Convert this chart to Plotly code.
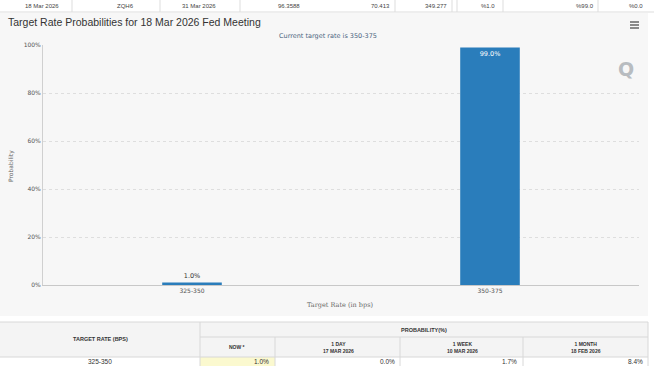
import plotly.graph_objects as go

# ---- data ----
categories = ["325-350", "350-375"]
probabilities = [1.0, 99.0]
bar_labels = ["1.0%", "99.0%"]
y_ticks = [0, 20, 40, 60, 80, 100]
y_tick_labels = ["0%", "20%", "40%", "60%", "80%", "100%"]

top_row = ["18 Mar 2026", "ZQH6", "31 Mar 2026", "96.3588", "70.413", "349.277", "%1.0", "%99.0", "%0.0"]
table_headers = ["NOW *", "1 DAY<br>17 MAR 2026", "1 WEEK<br>10 MAR 2026", "1 MONTH<br>18 FEB 2026"]
table_rate = "325-350"
table_values = ["1.0%", "0.0%", "1.7%", "8.4%"]

W, H = 654, 366
L, R, T, B = 43, 15, 45, 81
PW, PH = W - L - R, H - T - B


def px(x):
    return (x - L) / PW


def py(y):
    return (H - B - y) / PH


fig = go.Figure()
fig.add_trace(go.Bar(
    x=categories, y=probabilities, width=0.2,
    marker=dict(color="#2a7dbb", line=dict(width=0)),
    text=bar_labels, textposition=["outside", "inside"],
    insidetextanchor="end",
    textfont=dict(family="DejaVu Sans", size=6.5, color=["#333333", "#ffffff"]),
    cliponaxis=False, hoverinfo="skip",
))

shapes = []
annotations = []

# chart container background
shapes.append(dict(type="rect", xref="paper", yref="paper", x0=px(0), x1=px(648), y0=py(316), y1=py(13),
                   fillcolor="#f7f7f7", line=dict(width=0), layer="below"))

# hamburger
for yy in (22, 25, 28):
    shapes.append(dict(type="line", xref="paper", yref="paper", x0=px(630), x1=px(639), y0=py(yy), y1=py(yy),
                       line=dict(color="#666666", width=1.5)))

# top row table
shapes.append(dict(type="line", xref="paper", yref="paper", x0=px(0), x1=px(654), y0=py(12), y1=py(12),
                   line=dict(color="#dddddd", width=1)))
for xx in (72, 160, 240, 395, 452, 457, 503, 598):
    shapes.append(dict(type="line", xref="paper", yref="paper", x0=px(xx), x1=px(xx), y0=py(0), y1=py(12),
                       line=dict(color="#dddddd", width=1)))
top_pos = [(42, "center"), (125, "center"), (199, "center"), (302, "right"), (392, "right"),
           (449, "right"), (488, "center"), (596, "right"), (645, "right")]
for (xx, al), txt in zip(top_pos, top_row):
    annotations.append(dict(xref="paper", yref="paper", x=px(xx), y=py(6), text=txt, showarrow=False,
                            xanchor=al, yanchor="middle",
                            font=dict(family="Liberation Sans", size=6, color="#444444")))

# title / subtitle
annotations.append(dict(xref="paper", yref="paper", x=px(6), y=py(22), text="Target Rate Probabilities for 18 Mar 2026 Fed Meeting",
                        showarrow=False, xanchor="left", yanchor="middle",
                        font=dict(family="Liberation Sans", size=10.5, color="#333333")))
annotations.append(dict(xref="paper", yref="paper", x=px(328), y=py(36), text="Current target rate is 350-375",
                        showarrow=False, xanchor="center", yanchor="middle",
                        font=dict(family="DejaVu Sans", size=6.5, color="#4b6480")))
# watermark
annotations.append(dict(xref="paper", yref="paper", x=px(626), y=py(69), text="<b>Q</b>",
                        showarrow=False, xanchor="center", yanchor="middle",
                        font=dict(family="DejaVu Sans", size=19, color="#b8bcc0")))
# axis titles
annotations.append(dict(xref="paper", yref="paper", x=px(340), y=py(305), text="Target Rate (in bps)",
                        showarrow=False, xanchor="center", yanchor="middle",
                        font=dict(family="DejaVu Serif", size=6.5, color="#666666")))
annotations.append(dict(xref="paper", yref="paper", x=px(11), y=py(166), text="Probability", textangle=-90,
                        showarrow=False, xanchor="center", yanchor="middle",
                        font=dict(family="DejaVu Sans", size=6, color="#666666")))

# bottom table
shapes.append(dict(type="rect", xref="paper", yref="paper", x0=px(0), x1=px(648), y0=py(357), y1=py(322),
                   fillcolor="#f4f4f4", line=dict(width=0), layer="below"))
shapes.append(dict(type="rect", xref="paper", yref="paper", x0=px(0), x1=px(648), y0=py(366), y1=py(357),
                   fillcolor="#ffffff", line=dict(width=0), layer="below"))
shapes.append(dict(type="rect", xref="paper", yref="paper", x0=px(200), x1=px(275), y0=py(366), y1=py(357),
                   fillcolor="#fbf9cf", line=dict(width=0), layer="below"))
for (x0, x1, yy) in ((0, 648, 322), (200, 648, 337), (0, 648, 357)):
    shapes.append(dict(type="line", xref="paper", yref="paper", x0=px(x0), x1=px(x1), y0=py(yy), y1=py(yy),
                       line=dict(color="#d8d8d8", width=1)))
shapes.append(dict(type="line", xref="paper", yref="paper", x0=px(200), x1=px(200), y0=py(322), y1=py(366),
                   line=dict(color="#d8d8d8", width=1)))
shapes.append(dict(type="line", xref="paper", yref="paper", x0=px(648), x1=px(648), y0=py(322), y1=py(366),
                   line=dict(color="#d8d8d8", width=1)))
for xx in (275, 400, 523):
    shapes.append(dict(type="line", xref="paper", yref="paper", x0=px(xx), x1=px(xx), y0=py(337), y1=py(366),
                       line=dict(color="#d8d8d8", width=1)))

tfont = dict(family="Liberation Sans", size=5.5, color="#333333")
annotations.append(dict(xref="paper", yref="paper", x=px(100), y=py(339), text="<b>TARGET RATE (BPS)</b>",
                        showarrow=False, xanchor="center", yanchor="middle", font=tfont))
annotations.append(dict(xref="paper", yref="paper", x=px(424), y=py(330), text="<b>PROBABILITY(%)</b>",
                        showarrow=False, xanchor="center", yanchor="middle", font=tfont))
for xx, txt in zip((237, 338, 462, 586), table_headers):
    annotations.append(dict(xref="paper", yref="paper", x=px(xx), y=py(347), text="<b>" + txt.replace("<br>", "</b><br><b>") + "</b>",
                            showarrow=False, xanchor="center", yanchor="middle",
                            font=dict(family="Liberation Sans", size=5, color="#333333")))
annotations.append(dict(xref="paper", yref="paper", x=px(100), y=py(361.5), text=table_rate,
                        showarrow=False, xanchor="center", yanchor="middle",
                        font=dict(family="Liberation Sans", size=6.5, color="#333333")))
for xx, txt in zip((271, 397, 519, 645), table_values):
    annotations.append(dict(xref="paper", yref="paper", x=px(xx), y=py(361.5), text=txt,
                            showarrow=False, xanchor="right", yanchor="middle",
                            font=dict(family="Liberation Sans", size=6.5, color="#333333")))

fig.update_layout(
    width=W, height=H, margin=dict(l=L, r=R, t=T, b=B, pad=0),
    paper_bgcolor="#ffffff", plot_bgcolor="rgba(0,0,0,0)",
    showlegend=False, bargap=0.8,
    shapes=shapes, annotations=annotations,
    xaxis=dict(type="category", showgrid=False, showline=True, linecolor="#c8c8c8", linewidth=1,
               ticks="", tickfont=dict(family="DejaVu Sans", size=6, color="#555555"), fixedrange=True),
    yaxis=dict(range=[0, 100], tickvals=y_ticks, ticktext=y_tick_labels,
               showgrid=True, gridcolor="#dedede", griddash="dot", gridwidth=1,
               zeroline=False, showline=True, linecolor="#d0d0d0", linewidth=1,
               ticks="", tickfont=dict(family="DejaVu Sans", size=6, color="#555555"), fixedrange=True),
)

fig.write_html("out.html", config={"displayModeBar": False},
               post_script="document.body.style.margin='0';document.body.style.overflow='hidden';")
